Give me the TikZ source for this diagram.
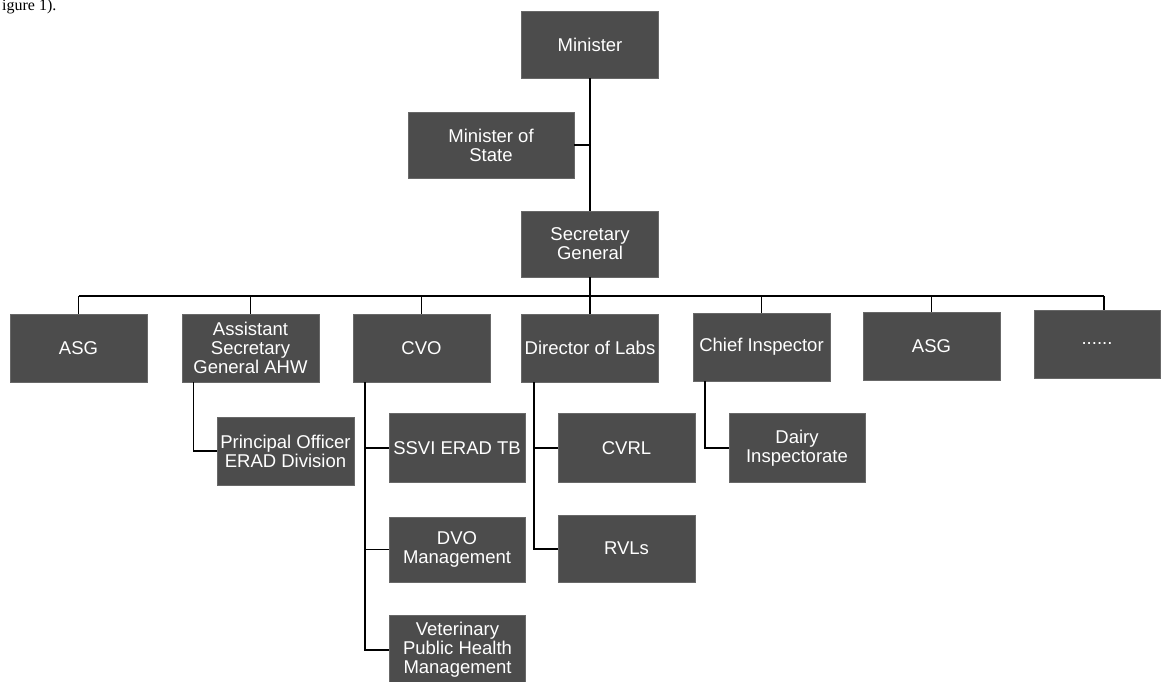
\documentclass[tikz,border=0pt]{standalone}
\usepackage{fontspec}
\setmainfont{Liberation Sans}
\newfontfamily\serifscan{Liberation Serif}
\definecolor{boxfill}{HTML}{4C4C4C}
\definecolor{boxedge}{HTML}{686868}
\begin{document}
\begin{tikzpicture}[x=1pt,y=-1pt,
  orgbox/.style={rectangle, fill=boxfill, draw=boxedge, line width=0.8pt, inner sep=0pt,
    minimum width=137pt, minimum height=68pt, text=white, align=center,
    font=\fontsize{18.5}{19}\selectfont},
  link/.style={draw=black, line width=2pt},
  thin link/.style={draw=black, line width=1.6pt}]
\useasboundingbox (0,0) rectangle (1161,682);
\fill[white] (0,0) rectangle (1161,682);

% scan fragment
\node[anchor=base west, inner sep=0pt, font=\serifscan\fontsize{16}{18}\selectfont] (fig) at (2,11) {igure 1).};

% nodes
\node[orgbox, minimum height=67pt] (min) at (590,44.5) {Minister};
\node[orgbox, minimum width=166pt, minimum height=66pt] (mos) at (491,145) {Minister of\\State};
\node[orgbox, minimum height=66pt] (sg) at (590,244) {Secretary\\General};

\node[orgbox] (asg1) at (78.5,348) {ASG};
\node[orgbox] (asst) at (250.5,348) {Assistant\\Secretary\\General AHW};
\node[orgbox] (cvo) at (421.5,348) {CVO};
\node[orgbox] (dir) at (590,348) {Director of Labs};
\node[orgbox] (chief) at (761.5,347) {Chief Inspector};
\node[orgbox] (asg2) at (931.5,346) {ASG};
\node[orgbox, minimum width=126pt] (last) at (1097,344) {......};

\node[orgbox] (princ) at (285.5,451) {Principal Officer\\ERAD Division};
\node[orgbox, minimum width=136pt, minimum height=69pt] (ssvi) at (457,448) {SSVI ERAD TB};
\node[orgbox, minimum height=69pt] (cvrl) at (626.5,448) {CVRL};
\node[orgbox, minimum width=136pt, minimum height=69pt] (dairy) at (797,448) {Dairy\\Inspectorate};
\node[orgbox, minimum width=136pt, minimum height=65pt] (dvo) at (457,549.5) {DVO\\Management};
\node[orgbox, minimum height=67pt] (rvls) at (626.5,548.5) {RVLs};
\node[orgbox, minimum width=136pt, minimum height=70pt] (vph) at (457.5,650) {Veterinary\\Public Health\\Management};

% coordinates
\coordinate (bus) at (0,296);
\coordinate (lastdrop) at ([xshift=7pt]last.north);
\coordinate (asstL) at ([xshift=-57pt]asst.south);
\coordinate (cvoL) at ([xshift=-56.5pt]cvo.south);
\coordinate (dirL) at ([xshift=-56pt]dir.south);
\coordinate (chiefL) at ([xshift=-56.5pt]chief.south);

% connectors
\draw[link, line width=2.5pt] (min.south) -- (sg.north);
\draw[thin link] (mos.east) -- (mos.east -| min.south);
\draw[link] (sg.south) -- (dir.north);
\draw[link] (asg1.north |- bus) -- (lastdrop |- bus);
\draw[thin link] (asg1.north) -- (asg1.north |- bus);
\draw[thin link] (asst.north) -- (asst.north |- bus);
\draw[thin link] (cvo.north) -- (cvo.north |- bus);
\draw[thin link] (chief.north) -- (chief.north |- bus);
\draw[thin link] (asg2.north) -- (asg2.north |- bus);
\draw[thin link] (lastdrop) -- (lastdrop |- bus);

\draw[thin link] (asstL) |- (princ.west);
\draw[link] (cvoL) |- (vph.west);
\draw[thin link] (ssvi.west) -- (ssvi.west -| cvoL);
\draw[thin link] (dvo.west) -- (dvo.west -| cvoL);
\draw[link] (dirL) |- (rvls.west);
\draw[thin link] (cvrl.west) -- (cvrl.west -| dirL);
\draw[thin link] (chiefL) |- (dairy.west);
\end{tikzpicture}
\end{document}
